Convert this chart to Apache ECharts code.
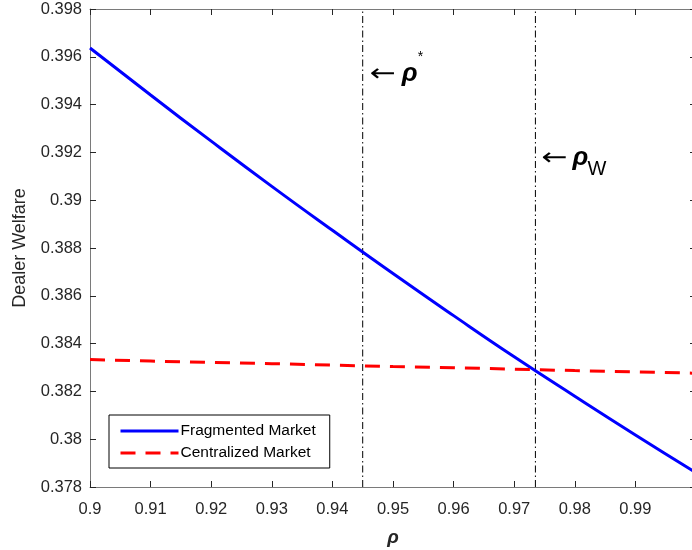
<!DOCTYPE html>
<html>
<head>
<meta charset="utf-8">
<script src="https://cdn.jsdelivr.net/npm/echarts@6/dist/echarts.min.js"></script>
</head>
<body style="margin: 0; background: #fff">
<div id="container" style="height: 550px; width: 692px;"></div>
<script>

// values
var rho = [0.90, 0.91, 0.92, 0.93, 0.94, 0.95, 0.96, 0.97, 0.98, 0.99, 1.00];
var fragmented = [0.39637, 0.39440, 0.39247, 0.39058, 0.38874, 0.38693, 0.38517, 0.38345, 0.38180, 0.38018, 0.37860];
var centralized = [0.38333, 0.38327, 0.38321, 0.38316, 0.38310, 0.38304, 0.38299, 0.38293, 0.38287, 0.38282, 0.38276];
var rhoStar = 0.945;
var rhoW = 0.9735;
var xTicks = [0.9, 0.91, 0.92, 0.93, 0.94, 0.95, 0.96, 0.97, 0.98, 0.99, 1];
var yTicks = [0.378, 0.38, 0.382, 0.384, 0.386, 0.388, 0.39, 0.392, 0.394, 0.396, 0.398];

var FONT = 'Liberation Sans, Arial, sans-serif';
var AXIS_COLOR = '#7a7a7a';
var TEXT_COLOR = '#262626';

function pairs(xs, ys) {
    var res = [];
    for (var i = 0; i < xs.length; i++) res.push([xs[i], ys[i]]);
    return res;
}

// vertical line from bottom to top of the y range
function vline(x) {
    return [[x, yTicks[0]], [x, yTicks[yTicks.length - 1]]];
}

var dom = document.getElementById('container');
var myChart = echarts.init(dom);

function fmt(v) {
    return String(parseFloat(v.toFixed(4)));
}

var baseX = {
    type: 'value',
    min: xTicks[0],
    max: xTicks[xTicks.length - 1],
    interval: 0.01,
    splitLine: { show: false },
    axisLine: { show: true, lineStyle: { color: AXIS_COLOR, width: 1 } },
    axisTick: { show: true, inside: true, length: 6, lineStyle: { color: TEXT_COLOR } }
};
var baseY = {
    type: 'value',
    min: yTicks[0],
    max: yTicks[yTicks.length - 1],
    interval: 0.002,
    splitLine: { show: false },
    axisLine: { show: true, lineStyle: { color: AXIS_COLOR, width: 1 } },
    axisTick: { show: true, inside: true, length: 6, lineStyle: { color: TEXT_COLOR } }
};

var dashDot = { color: '#000', width: 1, type: [7, 3, 1.5, 3] };

var option = {
    animation: false,
    backgroundColor: '#fff',
    textStyle: { fontFamily: FONT },
    grid: { left: 90, top: 9, width: 606, height: 478, containLabel: false, outerBoundsMode: 'none' },
    legend: {
        orient: 'vertical',
        left: 109,
        top: 415,
        padding: [8, 14, 7, 10],
        itemGap: 6,
        itemWidth: 58,
        itemHeight: 14,
        borderColor: '#000',
        borderWidth: 1,
        backgroundColor: '#fff',
        itemStyle: { opacity: 0 },
        lineStyle: { width: 3 },
        textStyle: { fontFamily: FONT, fontSize: 15.5, color: '#000', padding: [0, 0, 0, -3] },
        data: ['Fragmented Market', 'Centralized Market']
    },
    xAxis: [
        Object.assign({}, baseX, {
            position: 'bottom',
            name: 'ρ',
            nameLocation: 'middle',
            nameGap: 41,
            nameTextStyle: { fontFamily: FONT, fontSize: 19, fontStyle: 'italic', fontWeight: 'bold', color: TEXT_COLOR },
            axisLabel: { margin: 14, fontSize: 16.5, color: TEXT_COLOR, fontFamily: FONT, formatter: fmt }
        }),
        Object.assign({}, baseX, { position: 'top', axisLabel: { show: false } })
    ],
    yAxis: [
        Object.assign({}, baseY, {
            position: 'left',
            name: 'Dealer Welfare',
            nameLocation: 'middle',
            nameGap: 61,
            nameTextStyle: { fontFamily: FONT, fontSize: 18, color: TEXT_COLOR },
            axisLabel: { margin: 8, fontSize: 16.5, color: TEXT_COLOR, fontFamily: FONT, formatter: fmt }
        }),
        Object.assign({}, baseY, { position: 'right', axisLabel: { show: false } })
    ],
    series: [
        {
            name: 'Fragmented Market',
            type: 'line',
            data: pairs(rho, fragmented),
            symbol: 'none',
            smooth: true,
            color: '#0000ff',
            lineStyle: { color: '#0000ff', width: 3 },
            z: 3
        },
        {
            name: 'Centralized Market',
            type: 'line',
            data: pairs(rho, centralized),
            symbol: 'none',
            color: '#ff0000',
            lineStyle: { color: '#ff0000', width: 3, type: [15, 10] },
            z: 4
        },
        {
            name: 'rho star',
            type: 'line',
            data: vline(rhoStar),
            symbol: 'none',
            silent: true,
            lineStyle: dashDot,
            z: 2
        },
        {
            name: 'rho W',
            type: 'line',
            data: vline(rhoW),
            symbol: 'none',
            silent: true,
            lineStyle: dashDot,
            z: 2
        }
    ]
};

myChart.setOption(option);

// arrow annotations next to the vertical lines
var xs = myChart.convertToPixel({ xAxisIndex: 0 }, rhoStar);
var xw = myChart.convertToPixel({ xAxisIndex: 0 }, rhoW);
var arrowFont = '24px DejaVu Sans, sans-serif';
var rhoFont = 'italic bold 26px ' + FONT;

myChart.setOption({
    graphic: [
        { type: 'text', x: xs + 7, y: 63, scaleX: 1.3, style: { text: '←', font: arrowFont, fill: '#000' } },
        { type: 'text', left: xs + 39, top: 61, style: { text: 'ρ', font: rhoFont, fill: '#000' } },
        { type: 'text', left: xs + 55, top: 50, style: { text: '*', font: '14px ' + FONT, fill: '#000' } },
        { type: 'text', x: xw + 6, y: 147, scaleX: 1.3, style: { text: '←', font: arrowFont, fill: '#000' } },
        { type: 'text', left: xw + 37, top: 145, style: { text: 'ρ', font: rhoFont, fill: '#000' } },
        { type: 'text', left: xw + 52, top: 159, style: { text: 'W', font: '20px ' + FONT, fill: '#000' } }
    ]
});

</script>
</body>
</html>
